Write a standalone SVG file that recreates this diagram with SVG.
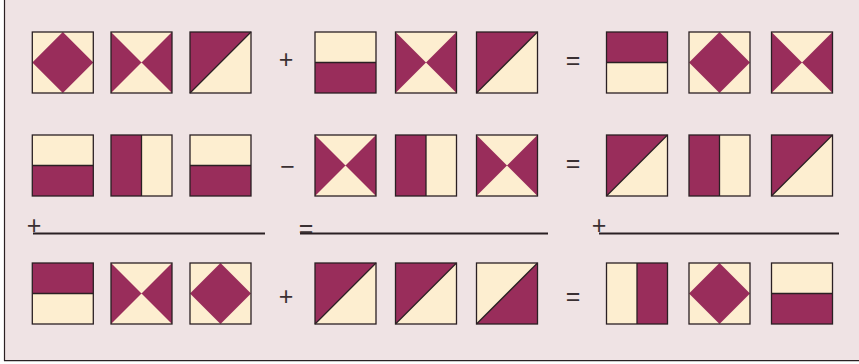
<svg xmlns="http://www.w3.org/2000/svg" width="859" height="364" viewBox="0 0 859 364">
<style>
.bg{fill:#efe3e4}
.c{fill:#fdeed0}
.p{fill:#992d5b}
.f{fill:none;stroke:#2a2023;stroke-width:1.3}
.l{stroke:#2a2023;stroke-width:2;fill:none}
.t{font-family:"Liberation Sans",Arial,sans-serif;font-size:25px;fill:#3a3032;text-anchor:middle}
</style>
<defs>
<g id="d"><rect class="c" width="61" height="61"/><path class="p" d="M30.500 0L61 30.500L30.500 61L0 30.500Z"/><rect class="f" width="61" height="61"/></g>
<g id="x"><rect class="c" width="61" height="61"/><path class="p" d="M0 0L61 61V0L0 61Z"/><rect class="f" width="61" height="61"/></g>
<g id="tl"><rect class="c" width="61" height="61"/><path class="p" d="M0 0H61L0 61Z"/><path class="f" d="M61 0L0 61"/><rect class="f" width="61" height="61"/></g>
<g id="br"><rect class="c" width="61" height="61"/><path class="p" d="M61 0V61H0Z"/><path class="f" d="M61 0L0 61"/><rect class="f" width="61" height="61"/></g>
<g id="ht"><rect class="c" width="61" height="61"/><rect class="p" width="61" height="30.500"/><path class="f" d="M0 30.500H61"/><rect class="f" width="61" height="61"/></g>
<g id="hb"><rect class="c" width="61" height="61"/><rect class="p" y="30.500" width="61" height="30.500"/><path class="f" d="M0 30.500H61"/><rect class="f" width="61" height="61"/></g>
<g id="vl"><rect class="c" width="61" height="61"/><rect class="p" width="30.500" height="61"/><path class="f" d="M30.500 0V61"/><rect class="f" width="61" height="61"/></g>
<g id="vr"><rect class="c" width="61" height="61"/><rect class="p" x="30.500" width="30.500" height="61"/><path class="f" d="M30.500 0V61"/><rect class="f" width="61" height="61"/></g>
</defs>
<rect width="859" height="364" fill="#fff"/>
<rect class="bg" x="4.500" y="-2" width="858" height="363"/>
<path d="M4.500 0V360.700H859" fill="none" stroke="#2a2023" stroke-width="1.200"/>
<g id="row1">
<use id="r1a" href="#d" x="32.300" y="32"/><use id="r1b" href="#x" x="111" y="32"/><use id="r1c" href="#tl" x="190" y="32"/>
<use id="r1d" href="#hb" x="315" y="32"/><use id="r1e" href="#x" x="395.500" y="32"/><use id="r1f" href="#tl" x="476.500" y="32"/>
<use id="r1g" href="#ht" x="606.500" y="32"/><use id="r1h" href="#d" x="689" y="32"/><use id="r1i" href="#x" x="771.500" y="32"/>
</g>
<g id="row2">
<use id="r2a" href="#hb" x="32.300" y="135"/><use id="r2b" href="#vl" x="111" y="135"/><use id="r2c" href="#hb" x="190" y="135"/>
<use id="r2d" href="#x" x="315" y="135"/><use id="r2e" href="#vl" x="395.500" y="135"/><use id="r2f" href="#x" x="476.500" y="135"/>
<use id="r2g" href="#tl" x="606.500" y="135"/><use id="r2h" href="#vl" x="689" y="135"/><use id="r2i" href="#tl" x="771.500" y="135"/>
</g>
<g id="row3">
<use id="r3a" href="#ht" x="32.300" y="263"/><use id="r3b" href="#x" x="111" y="263"/><use id="r3c" href="#d" x="190" y="263"/>
<use id="r3d" href="#tl" x="315" y="263"/><use id="r3e" href="#tl" x="395.500" y="263"/><use id="r3f" href="#br" x="476.500" y="263"/>
<use id="r3g" href="#vr" x="606.500" y="263"/><use id="r3h" href="#d" x="689" y="263"/><use id="r3i" href="#hb" x="771.500" y="263"/>
</g>
<g id="connectors">
<path class="l" d="M33 233.500H265"/><path class="l" d="M300 233.500H548"/><path class="l" d="M599 233.500H839"/>
</g>
<g id="labels">
<text class="t" x="286" y="68">+</text><text class="t" x="573" y="69">=</text>
<text class="t" x="287.500" y="174.500">−</text><text class="t" x="573" y="172">=</text>
<text class="t" x="34" y="233.500">+</text><text class="t" x="306" y="237">=</text><text class="t" x="599" y="234">+</text>
<text class="t" x="286" y="305">+</text><text class="t" x="573" y="305">=</text>
</g>
</svg>
